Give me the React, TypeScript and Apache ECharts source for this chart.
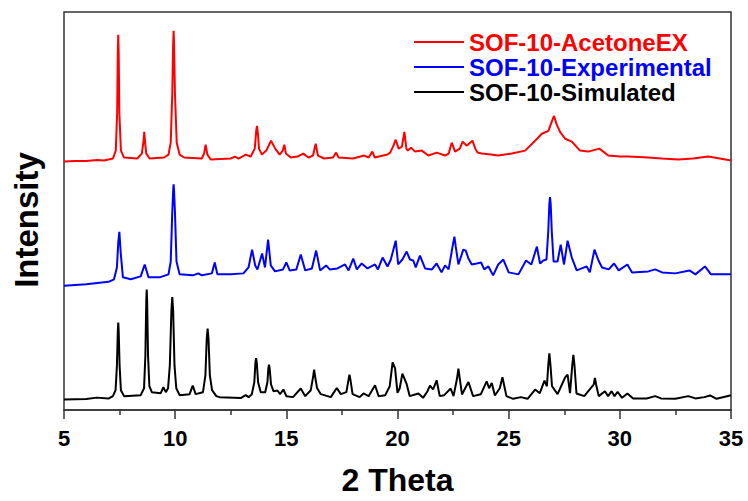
import React, { useEffect, useRef } from "react";
import * as echarts from "echarts";

const seriesNames = ["SOF-10-AcetoneEX", "SOF-10-Experimental", "SOF-10-Simulated"];
const seriesColors = ["#ff0000", "#0000ff", "#000000"];

// [2 Theta, intensity (a.u., offset-stacked)]
const acetoneEX: [number, number][] = [
  [5.0, 251], [5.5, 251.5], [6.0, 251.5], [6.5, 252.5], [6.8, 252], [7.2, 254], [7.33, 262], [7.39, 300], [7.42, 360],
  [7.44, 379], [7.46, 360], [7.49, 300], [7.56, 262], [7.7, 255], [8.3, 254], [8.5, 259], [8.58, 272], [8.61, 281],
  [8.64, 272], [8.7, 259], [8.85, 254], [9.5, 255], [9.7, 258], [9.8, 270], [9.87, 320], [9.91, 370], [9.93, 383],
  [9.95, 370], [9.99, 320], [10.07, 270], [10.2, 258], [10.4, 255], [11.2, 254], [11.3, 259], [11.37, 268], [11.45, 258],
  [11.6, 253], [12.5, 254], [12.69, 256], [12.85, 254], [13.1, 257], [13.17, 258], [13.4, 256], [13.58, 264],
  [13.65, 283], [13.68, 287], [13.72, 280], [13.77, 264], [13.9, 258], [14.1, 262], [14.31, 272], [14.5, 264],
  [14.7, 258], [14.84, 262], [14.91, 268], [14.98, 259], [15.2, 255], [15.5, 256], [15.76, 259], [16.0, 255],
  [16.2, 257], [16.32, 269], [16.42, 257], [16.7, 254], [17.1, 255], [17.24, 260], [17.35, 255], [18.0, 254],
  [18.5, 257], [18.7, 255], [18.87, 261], [18.98, 255], [19.35, 257], [19.55, 258], [19.67, 260], [19.8, 266],
  [19.92, 273], [20.05, 264], [20.2, 266], [20.31, 281], [20.4, 264], [20.46, 262], [20.61, 265], [20.79, 261],
  [21.09, 262], [21.39, 257], [21.76, 260], [22.14, 257], [22.3, 259], [22.44, 270], [22.59, 261], [22.8, 264],
  [22.93, 271], [23.11, 267], [23.37, 272], [23.5, 264], [23.6, 260], [23.79, 259], [24.2, 258], [24.53, 257],
  [25.14, 259], [25.74, 262], [26.19, 272], [26.49, 279], [26.79, 282], [26.95, 292], [27.04, 297], [27.15, 289],
  [27.31, 281], [27.54, 274], [27.84, 271], [28.21, 262], [28.58, 261], [29.08, 264], [29.48, 257], [30.0, 256],
  [30.38, 256], [31.28, 255], [31.88, 254], [32.63, 253], [33.3, 254], [33.98, 256], [34.5, 254], [35.0, 252],
];

const experimental: [number, number][] = [
  [5.0, 125.5], [6.0, 127], [7.0, 129.5], [7.25, 132], [7.38, 144], [7.44, 169], [7.49, 180], [7.55, 159],
  [7.65, 134], [8.0, 132], [8.45, 135], [8.63, 147], [8.8, 134], [9.3, 134], [9.7, 137], [9.8, 150], [9.87, 200],
  [9.91, 222], [9.93, 228], [9.95, 222], [9.99, 200], [10.06, 150], [10.2, 137], [10.8, 136], [11.04, 138],
  [11.2, 136], [11.65, 138], [11.78, 149], [11.9, 137], [12.5, 137], [13.07, 138], [13.3, 144], [13.46, 162],
  [13.6, 146], [13.7, 142], [13.91, 158], [14.04, 144], [14.18, 172], [14.3, 146], [14.49, 140], [14.85, 142],
  [15.0, 149], [15.15, 141], [15.45, 142], [15.65, 157], [15.85, 141], [16.15, 143], [16.34, 161], [16.52, 141],
  [16.79, 146], [16.95, 142], [17.3, 143], [17.64, 147], [17.8, 141], [18.01, 153], [18.17, 142], [18.39, 148],
  [18.65, 143], [18.99, 147], [19.12, 142], [19.33, 154], [19.55, 145], [19.7, 152], [19.92, 171], [20.03, 147],
  [20.22, 152], [20.41, 160], [20.56, 152], [20.71, 151], [20.82, 144], [21.01, 156], [21.24, 143], [21.55, 142],
  [21.76, 148], [21.98, 139], [22.14, 146], [22.3, 142], [22.5, 168], [22.56, 175], [22.62, 165], [22.74, 147],
  [22.96, 162], [23.07, 161], [23.19, 153], [23.34, 147], [23.56, 148], [23.76, 149], [23.9, 142], [24.09, 145],
  [24.3, 136], [24.53, 147], [24.76, 152], [25.0, 139], [25.44, 137], [25.78, 151], [26.02, 147], [26.27, 165],
  [26.41, 148], [26.56, 151], [26.7, 152], [26.78, 180], [26.83, 208], [26.86, 215], [26.89, 208], [26.94, 180],
  [27.02, 150], [27.2, 150], [27.34, 167], [27.49, 147], [27.65, 171], [27.84, 154], [28.06, 141], [28.51, 145],
  [28.65, 139], [28.86, 162], [29.04, 151], [29.2, 144], [29.5, 142], [29.74, 148], [29.95, 141], [30.34, 147],
  [30.55, 139], [31.28, 140], [31.59, 142], [31.9, 139], [32.5, 138], [33.13, 141], [33.4, 137], [33.83, 145],
  [34.1, 137], [34.88, 137], [35.0, 137],
];

const simulated: [number, number][] = [
  [5.0, 10.7], [6.0, 11], [6.48, 12.5], [7.0, 11.5], [7.2, 14], [7.32, 20], [7.38, 45], [7.42, 80], [7.44, 88.3],
  [7.46, 80], [7.5, 45], [7.56, 20], [7.7, 14], [8.45, 15], [8.6, 22], [8.66, 55], [8.7, 110], [8.72, 121.7],
  [8.74, 110], [8.78, 55], [8.84, 24], [8.95, 18], [9.35, 17], [9.47, 23], [9.58, 18], [9.68, 22], [9.76, 45],
  [9.83, 100], [9.87, 114], [9.91, 100], [9.97, 45], [10.05, 22], [10.2, 15], [10.65, 16], [10.79, 24.7],
  [10.92, 16], [11.25, 18], [11.36, 35], [11.42, 72], [11.46, 82.3], [11.5, 72], [11.56, 35], [11.66, 20],
  [11.85, 14], [12.0, 13], [12.95, 12], [13.17, 15], [13.3, 13], [13.45, 16], [13.56, 28], [13.61, 48],
  [13.64, 52.3], [13.67, 48], [13.73, 28], [13.85, 18], [14.05, 18], [14.15, 28], [14.19, 42], [14.22, 45.7],
  [14.25, 42], [14.31, 26], [14.42, 19], [14.6, 19.7], [14.72, 16], [14.87, 20.7], [15.0, 14], [15.3, 13],
  [15.65, 21.7], [15.85, 14], [16.1, 20], [16.2, 33], [16.25, 40.7], [16.3, 33], [16.38, 22.3], [16.55, 16],
  [17.0, 13], [17.27, 22.3], [17.45, 16], [17.7, 18], [17.8, 31], [17.84, 35.7], [17.88, 31], [17.98, 16],
  [18.3, 13], [18.47, 16.7], [18.7, 14], [18.99, 25], [19.15, 14], [19.45, 15], [19.65, 24], [19.78, 48],
  [19.89, 42.3], [20.0, 17.3], [20.1, 22], [20.22, 36.7], [20.41, 26.3], [20.55, 14], [20.94, 16.7], [21.15, 12.3],
  [21.35, 19], [21.46, 24.7], [21.6, 20.7], [21.76, 30], [21.9, 14], [22.1, 15], [22.39, 21.7], [22.52, 14],
  [22.68, 32], [22.74, 41.7], [22.8, 32], [22.9, 15.7], [23.19, 28.3], [23.4, 14], [23.75, 16], [24.01, 29],
  [24.12, 22], [24.24, 27.3], [24.38, 14.7], [24.6, 22], [24.72, 33], [24.9, 14], [25.2, 11.3], [25.55, 13],
  [25.85, 11.3], [26.19, 20.7], [26.4, 17], [26.61, 29.7], [26.72, 24], [26.78, 45], [26.83, 57.3], [26.88, 45],
  [26.95, 24], [27.2, 16], [27.54, 33], [27.65, 35.7], [27.76, 17], [27.86, 45], [27.91, 55.7], [27.96, 45],
  [28.05, 16.7], [28.4, 14], [28.83, 26], [28.88, 32.3], [28.93, 26], [29.05, 14], [29.33, 19], [29.47, 14],
  [29.63, 19], [29.76, 14], [29.9, 18.3], [30.1, 12.3], [30.34, 16.7], [30.6, 11.7], [31.2, 11.7], [31.59, 14],
  [31.85, 11.7], [32.5, 11.3], [33.08, 14], [33.4, 11.7], [33.8, 13], [34.06, 14.7], [34.35, 11.3], [34.96, 14.7],
  [35.0, 14.5],
];

const seriesData = [acetoneEX, experimental, simulated];

export default function App() {
  const ref = useRef<HTMLDivElement>(null);
  useEffect(() => {
    document.body.style.margin = "0";
    const chart = echarts.init(ref.current!, null, { renderer: "svg" });
    const font = '"Liberation Sans", Arial, Helvetica, sans-serif';
    chart.setOption({
      animation: false,
      backgroundColor: "#ffffff",
      grid: {
        left: 64, right: 17, top: 12, bottom: 87,
        show: true, borderColor: "#333333", borderWidth: 1.5, backgroundColor: "transparent",
      },
      legend: {
        orient: "vertical",
        left: 414,
        top: 30,
        padding: 0,
        icon: "rect",
        itemWidth: 50,
        itemHeight: 2,
        itemGap: 1,
        textStyle: { fontSize: 24, fontWeight: "bold", fontFamily: font },
        data: seriesNames.map((n, i) => ({ name: n, textStyle: { color: seriesColors[i] } })),
      },
      xAxis: {
        type: "value",
        min: 5,
        max: 35,
        interval: 5,
        name: "2 Theta",
        nameLocation: "middle",
        nameGap: 54,
        nameTextStyle: { fontSize: 32, fontWeight: "bold", color: "#000", fontFamily: font },
        axisLine: { show: true, lineStyle: { color: "#333333", width: 1.5 } },
        axisTick: { show: true, inside: false, length: 9, lineStyle: { color: "#333333", width: 1.5 } },
        minorTick: { show: true, splitNumber: 2, length: 5, lineStyle: { color: "#333333", width: 1.5 } },
        axisLabel: { fontSize: 22, fontWeight: "bold", color: "#000", margin: 17, fontFamily: font },
        splitLine: { show: false },
        minorSplitLine: { show: false },
      },
      yAxis: {
        type: "value",
        min: 0,
        max: 402,
        axisLine: { show: false },
        axisTick: { show: false },
        axisLabel: { show: false },
        splitLine: { show: false },
      },
      graphic: [
        {
          type: "text",
          x: 26,
          y: 220,
          rotation: Math.PI / 2,
          style: {
            text: "Intensity",
            fontSize: 33,
            fontWeight: "bold",
            fontFamily: font,
            fill: "#000",
            align: "center",
            verticalAlign: "middle",
          },
        },
      ],
      series: seriesNames.map((n, i) => ({
        name: n,
        type: "line",
        data: seriesData[i],
        symbol: "none",
        showSymbol: false,
        smooth: false,
        lineStyle: { color: seriesColors[i], width: 2 },
        itemStyle: { color: seriesColors[i] },
      })),
    });
    return () => chart.dispose();
  }, []);
  return <div ref={ref} style={{ width: 748, height: 501 }} />;
}
